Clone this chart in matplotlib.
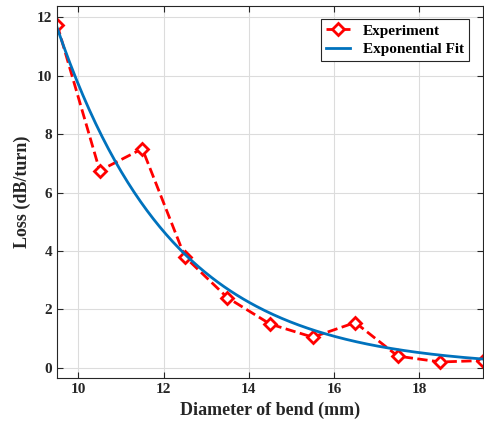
import numpy as np
import matplotlib
matplotlib.use('Agg')
import matplotlib.pyplot as plt

# bend diameter (mm) and measured loss (dB/turn)
diameter = [9.5, 10.5, 11.5, 12.5, 13.5, 14.5, 15.5, 16.5, 17.5, 18.5, 19.5]
loss = [11.75, 6.75, 7.5, 3.8, 2.4, 1.5, 1.05, 1.55, 0.4, 0.2, 0.25]

# exponential fit: loss = a * exp(b * d)
fit_a = 375.0
fit_b = -0.3655

plt.rcParams['font.family'] = ['Liberation Serif', 'DejaVu Serif']
plt.rcParams['font.weight'] = 'bold'

fig = plt.figure(figsize=(4.84, 4.28), dpi=100)
ax = fig.add_axes([0.118, 0.116, 0.880, 0.871])

d_fit = np.linspace(9.5, 19.5, 200)
ax.plot(diameter, loss, '--', color='red', lw=2, marker='D', ms=6,
        mfc='white', mec='red', mew=2, label='Experiment')
ax.plot(d_fit, fit_a * np.exp(fit_b * d_fit), color='#0072BD', lw=2,
        label='Exponential Fit')

ax.set_xlim(9.5, 19.5)
ax.set_ylim(-0.36, 12.4)
ax.set_xticks([10, 12, 14, 16, 18])
ax.set_yticks([0, 2, 4, 6, 8, 10, 12])
ax.grid(True, color='#dcdcdc', lw=0.8)
ax.set_axisbelow(True)
ax.tick_params(direction='in', top=True, right=True, labelsize=11, length=4,
               color='#262626', labelcolor='#262626')
for lbl in ax.get_xticklabels() + ax.get_yticklabels():
    lbl.set_fontweight('bold')
for s in ax.spines.values():
    s.set_color('#262626')
    s.set_linewidth(0.8)

ax.set_xlabel('Diameter of bend (mm)', fontsize=13, fontweight='bold', color='#262626')
ax.set_ylabel('Loss (dB/turn)', fontsize=13, fontweight='bold', color='#262626')

leg = ax.legend(loc='upper right', fontsize=11, fancybox=False, framealpha=1,
                edgecolor='#262626', handlelength=1.6, borderpad=0.35,
                labelspacing=0.3, bbox_to_anchor=(0.985, 0.985))
leg.get_frame().set_linewidth(0.8)
for t in leg.get_texts():
    t.set_fontweight('bold')

fig.savefig('out.png', dpi=100)
